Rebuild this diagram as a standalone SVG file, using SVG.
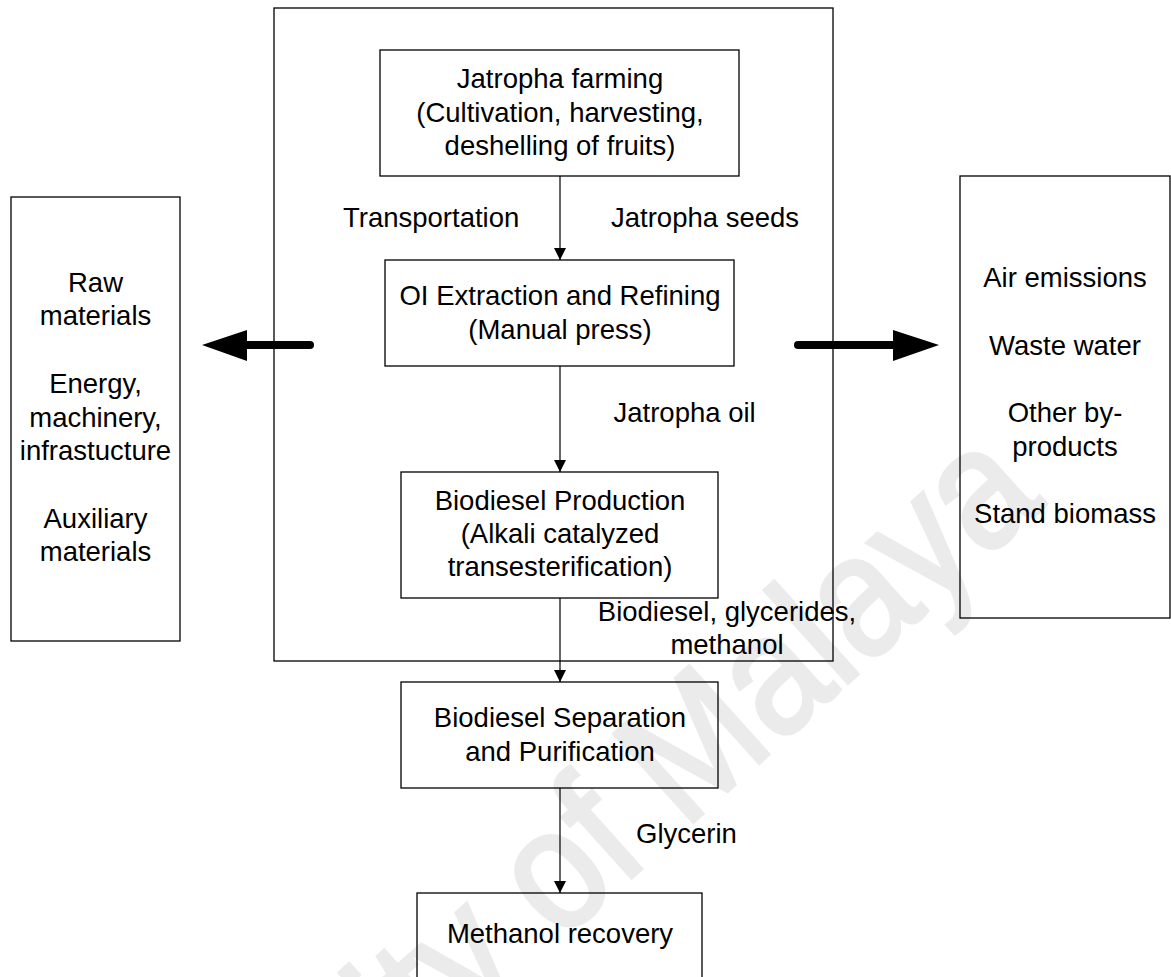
<svg xmlns="http://www.w3.org/2000/svg" width="1171" height="977" viewBox="0 0 1171 977">
<style>
text{font-family:"Liberation Sans",Arial,sans-serif;font-size:27.5px;fill:#000}
.c{text-anchor:middle}
.box{fill:none;stroke:#000;stroke-width:1.3}
.ln{stroke:#000;stroke-width:1.2;fill:none}
.thick{stroke:#000;stroke-width:8;stroke-linecap:round;fill:none}
.wm{font-size:172px;fill:#ebebeb;stroke:#ebebeb;stroke-width:4;text-anchor:middle}
</style>
<defs>
<marker id="ah" markerUnits="userSpaceOnUse" markerWidth="12" markerHeight="12" refX="12" refY="6" orient="auto">
<path d="M0,0 L12,6 L0,12 z" fill="#000"/>
</marker>
</defs>
<rect width="1171" height="977" fill="#fff"/>
<text class="wm" transform="translate(500,915) rotate(-42) scale(0.88,1)" dy="0.35em">University of Malaya</text>

<g id="system-boundary"><rect class="box" x="274" y="8" width="559" height="653"/></g>

<g id="farming">
<rect class="box" x="380" y="50" width="359" height="126"/>
<text class="c" x="560" y="88">Jatropha farming</text>
<text class="c" x="560" y="121.5">(Cultivation, harvesting,</text>
<text class="c" x="560" y="155">deshelling of fruits)</text>
</g>

<g id="extraction">
<rect class="box" x="385" y="260" width="349" height="106"/>
<text class="c" x="560" y="305">OI Extraction and Refining</text>
<text class="c" x="560" y="338.5">(Manual press)</text>
</g>

<g id="production">
<rect class="box" x="401" y="472" width="317" height="126"/>
<text class="c" x="560" y="509.5">Biodiesel Production</text>
<text class="c" x="560" y="543">(Alkali catalyzed</text>
<text class="c" x="560" y="576">transesterification)</text>
</g>

<g id="separation">
<rect class="box" x="401" y="682" width="317" height="106"/>
<text class="c" x="560" y="727">Biodiesel Separation</text>
<text class="c" x="560" y="760.5">and Purification</text>
</g>

<g id="methanol-recovery">
<rect class="box" x="417" y="893" width="285" height="100"/>
<text class="c" x="560" y="943">Methanol recovery</text>
</g>

<g id="inputs">
<rect class="box" x="11" y="197" width="169" height="444"/>
<text class="c" x="95.5" y="292">Raw</text>
<text class="c" x="95.5" y="325">materials</text>
<text class="c" x="95.5" y="393">Energy,</text>
<text class="c" x="95.5" y="427">machinery,</text>
<text class="c" x="95.5" y="460">infrastucture</text>
<text class="c" x="95.5" y="528">Auxiliary</text>
<text class="c" x="95.5" y="561">materials</text>
</g>

<g id="outputs">
<rect class="box" x="960" y="176" width="210" height="442"/>
<text class="c" x="1065" y="287">Air emissions</text>
<text class="c" x="1065" y="355">Waste water</text>
<text class="c" x="1065" y="422">Other by-</text>
<text class="c" x="1065" y="456">products</text>
<text class="c" x="1065" y="523">Stand biomass</text>
</g>

<g id="connectors">
<line class="ln" x1="560" y1="176" x2="560" y2="260" marker-end="url(#ah)"/>
<line class="ln" x1="560" y1="366" x2="560" y2="472" marker-end="url(#ah)"/>
<line class="ln" x1="560" y1="598" x2="560" y2="682" marker-end="url(#ah)"/>
<line class="ln" x1="560" y1="788" x2="560" y2="893" marker-end="url(#ah)"/>
<line class="thick" x1="310" y1="345" x2="244" y2="345"/>
<polygon points="202,345 247,330 247,361" fill="#000"/>
<line class="thick" x1="798" y1="345" x2="896" y2="345"/>
<polygon points="939,345 893,330 893,361" fill="#000"/>
</g>

<g id="labels">
<text x="343" y="227">Transportation</text>
<text x="611" y="227">Jatropha seeds</text>
<text x="613.5" y="422">Jatropha oil</text>
<text class="c" x="727" y="621">Biodiesel, glycerides,</text>
<text class="c" x="727" y="654">methanol</text>
<text x="636" y="843">Glycerin</text>
</g>
</svg>
